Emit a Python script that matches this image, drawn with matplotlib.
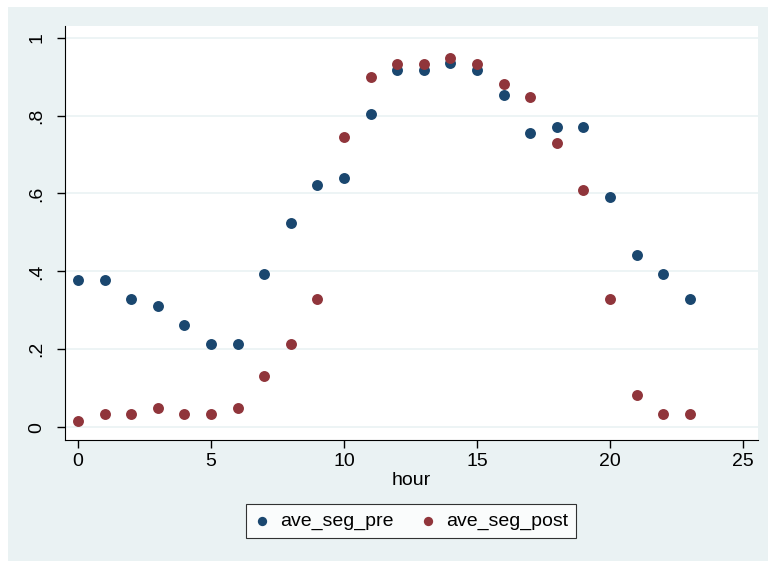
import numpy as np
import matplotlib
matplotlib.use("Agg")
from matplotlib import pyplot as plt

# Werte
hour = list(range(24))
ave_seg_pre = [0.377, 0.377, 0.328, 0.311, 0.262, 0.213, 0.213, 0.393, 0.525, 0.623,
               0.639, 0.803, 0.918, 0.918, 0.934, 0.918, 0.852, 0.754, 0.770, 0.770,
               0.590, 0.443, 0.393, 0.328]
ave_seg_post = [0.016, 0.033, 0.033, 0.049, 0.033, 0.033, 0.049, 0.131, 0.213, 0.328,
                0.746, 0.898, 0.932, 0.932, 0.949, 0.932, 0.881, 0.847, 0.729, 0.610,
                0.328, 0.082, 0.033, 0.033]
yticks = [0, 0.2, 0.4, 0.6, 0.8, 1.0]
yticklabels = ["0", ".2", ".4", ".6", ".8", "1"]
xticks = [0, 5, 10, 15, 20, 25]

bg = "#EAF2F3"
navy = "#1A476F"
maroon = "#90353B"

plt.rcParams['font.family'] = ['Liberation Sans', 'DejaVu Sans']

fig = plt.figure(figsize=(7.68, 5.61), dpi=100)
fig.patch.set_facecolor("white")
# hellblauer Hintergrund (Stata s2color)
fig.patches.append(plt.Rectangle((8/768, 0), 1, 1 - 7/561, transform=fig.transFigure,
                                 facecolor=bg, edgecolor="none", zorder=-10))

ax = fig.add_axes([65/768, 1 - 440/561, (758 - 65)/768, (440 - 26)/561])
ax.set_facecolor("white")

for y in yticks:
    ax.axhline(y, color=bg, lw=1.2, zorder=0)

ax.scatter(hour, ave_seg_pre, s=62, color=navy, label="ave_seg_pre", zorder=3, linewidths=0)
ax.scatter(hour, ave_seg_post, s=62, color=maroon, label="ave_seg_post", zorder=4, linewidths=0)

ax.set_xlim(-0.49, 25.56)
ax.set_ylim(-0.033, 1.030)
ax.set_xticks(xticks)
ax.set_yticks(yticks)
ax.set_yticklabels(yticklabels, rotation=90, va="center")
ax.tick_params(labelsize=14, length=6, width=1, color="black", pad=3)
ax.tick_params(axis="y", pad=8)

for side in ["top", "right"]:
    ax.spines[side].set_visible(False)
ax.spines["left"].set_color("black")
ax.spines["bottom"].set_color("black")

ax.set_xlabel("hour", fontsize=14, labelpad=2)

leg = fig.legend(loc="center", bbox_to_anchor=(411/768, 1 - 521/561), ncol=2,
                 fontsize=14, frameon=True, fancybox=False, edgecolor="black",
                 handletextpad=0.5, columnspacing=1.3, markerscale=0.85,
                 handlelength=0.9, borderpad=0.4, borderaxespad=0.2)
leg.get_frame().set_linewidth(0.8)

fig.savefig("out.png", dpi=100, facecolor=fig.get_facecolor())
